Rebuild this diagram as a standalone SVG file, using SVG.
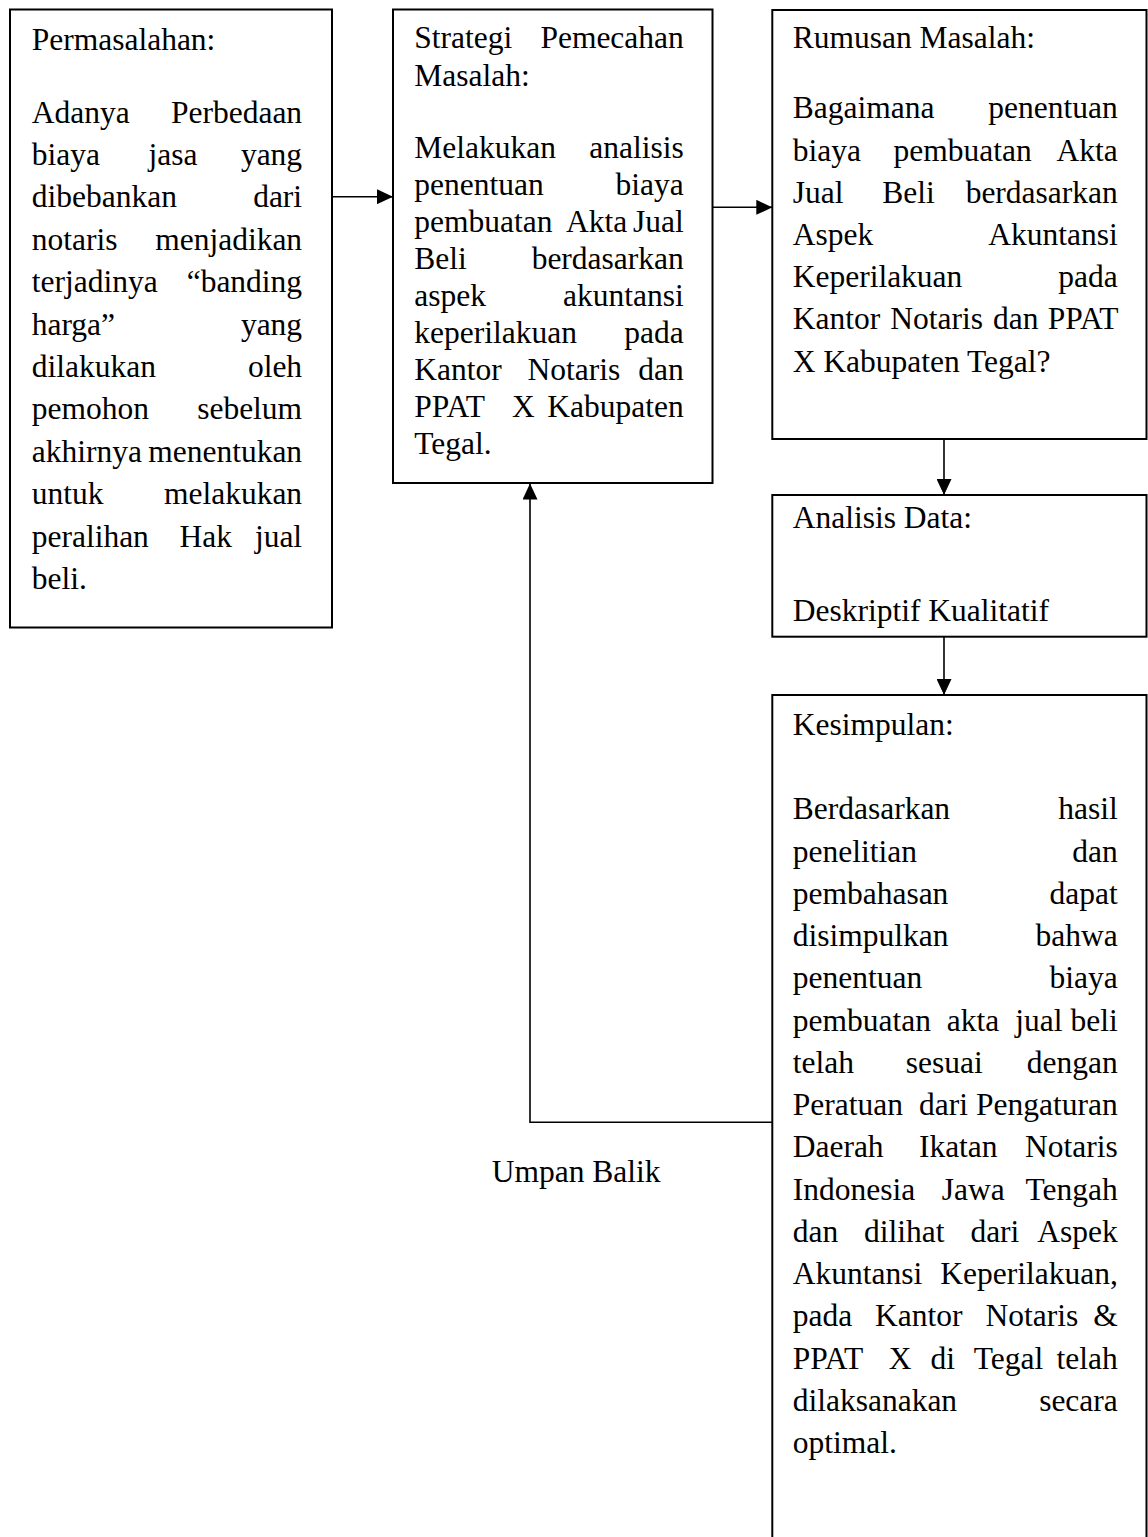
<svg xmlns="http://www.w3.org/2000/svg" width="1148" height="1537" viewBox="0 0 1148 1537">
<style>
.box{fill:#fff;stroke:#000;stroke-width:2}
.t{font-family:"Liberation Serif","Times New Roman",serif;font-size:31.5px;fill:#000}
.e{text-anchor:end}
.c{fill:none;stroke:#000;stroke-width:1.6}
</style>
<defs>
<marker id="ah" viewBox="0 0 16 15" refX="16" refY="7.5" markerWidth="16" markerHeight="15" markerUnits="userSpaceOnUse" orient="auto">
<path d="M0,0 L16,7.5 L0,15 Z" fill="#000"/>
</marker>
</defs>
<rect width="1148" height="1537" fill="#fff"/>

<g id="permasalahan">
<rect class="box" x="10" y="9.5" width="322" height="618"/>
<text class="t">
<tspan x="31.7" y="50">Permasalahan:</tspan>
<tspan x="31.7" y="122.5">Adanya</tspan><tspan class="e" x="310" y="122.5">Perbedaan</tspan>
<tspan x="31.7" y="164.9">biaya</tspan><tspan x="148.5" y="164.9">jasa</tspan><tspan class="e" x="310" y="164.9">yang</tspan>
<tspan x="31.7" y="207.3">dibebankan</tspan><tspan class="e" x="310" y="207.3">dari</tspan>
<tspan x="31.7" y="249.7">notaris</tspan><tspan class="e" x="310" y="249.7">menjadikan</tspan>
<tspan x="31.7" y="292.1">terjadinya</tspan><tspan class="e" x="310" y="292.1">“banding</tspan>
<tspan x="31.7" y="334.5">harga”</tspan><tspan class="e" x="310" y="334.5">yang</tspan>
<tspan x="31.7" y="376.9">dilakukan</tspan><tspan class="e" x="310" y="376.9">oleh</tspan>
<tspan x="31.7" y="419.3">pemohon</tspan><tspan class="e" x="310" y="419.3">sebelum</tspan>
<tspan x="31.7" y="461.7">akhirnya</tspan><tspan class="e" x="310" y="461.7">menentukan</tspan>
<tspan x="31.7" y="504.1">untuk</tspan><tspan class="e" x="310" y="504.1">melakukan</tspan>
<tspan x="31.7" y="546.5">peralihan</tspan><tspan x="179.6" y="546.5">Hak</tspan><tspan class="e" x="310" y="546.5">jual</tspan>
<tspan x="31.7" y="588.9">beli.</tspan>
</text>
</g>

<g id="strategi">
<rect class="box" x="393" y="9.5" width="319.5" height="473.5"/>
<text class="t">
<tspan x="414.3" y="48.3">Strategi</tspan><tspan class="e" x="691.7" y="48.3">Pemecahan</tspan>
<tspan x="414.3" y="86">Masalah:</tspan>
<tspan x="414.3" y="158.3">Melakukan</tspan><tspan class="e" x="691.7" y="158.3">analisis</tspan>
<tspan x="414.3" y="195.2">penentuan</tspan><tspan class="e" x="691.7" y="195.2">biaya</tspan>
<tspan x="414.3" y="232.1">pembuatan</tspan><tspan x="566.1" y="232.1">Akta</tspan><tspan class="e" x="691.7" y="232.1">Jual</tspan>
<tspan x="414.3" y="269">Beli</tspan><tspan class="e" x="691.7" y="269">berdasarkan</tspan>
<tspan x="414.3" y="305.9">aspek</tspan><tspan class="e" x="691.7" y="305.9">akuntansi</tspan>
<tspan x="414.3" y="342.8">keperilakuan</tspan><tspan class="e" x="691.7" y="342.8">pada</tspan>
<tspan x="414.3" y="379.7">Kantor</tspan><tspan x="527.6" y="379.7">Notaris</tspan><tspan class="e" x="691.7" y="379.7">dan</tspan>
<tspan x="414.3" y="416.6">PPAT</tspan><tspan x="511.9" y="416.6">X</tspan><tspan class="e" x="691.7" y="416.6">Kabupaten</tspan>
<tspan x="414.3" y="453.5">Tegal.</tspan>
</text>
</g>

<g id="rumusan">
<rect class="box" x="772.3" y="10" width="374.2" height="429"/>
<text class="t">
<tspan x="792.7" y="48.3">Rumusan Masalah:</tspan>
<tspan x="792.7" y="118.3">Bagaimana</tspan><tspan class="e" x="1125.7" y="118.3">penentuan</tspan>
<tspan x="792.7" y="160.5">biaya</tspan><tspan x="893.6" y="160.5">pembuatan</tspan><tspan class="e" x="1125.7" y="160.5">Akta</tspan>
<tspan x="792.7" y="202.7">Jual</tspan><tspan x="882.2" y="202.7">Beli</tspan><tspan class="e" x="1125.7" y="202.7">berdasarkan</tspan>
<tspan x="792.7" y="244.9">Aspek</tspan><tspan class="e" x="1125.7" y="244.9">Akuntansi</tspan>
<tspan x="792.7" y="287.1">Keperilakuan</tspan><tspan class="e" x="1125.7" y="287.1">pada</tspan>
<tspan x="792.7" y="329.3">Kantor</tspan><tspan x="890.3" y="329.3">Notaris</tspan><tspan x="993.1" y="329.3">dan</tspan><tspan class="e" x="1125.7" y="329.3">PPAT</tspan>
<tspan x="792.7" y="371.5">X Kabupaten Tegal?</tspan>
</text>
</g>

<g id="analisis">
<rect class="box" x="772.3" y="495" width="374.2" height="141.7"/>
<text class="t">
<tspan x="792.7" y="528">Analisis Data:</tspan>
<tspan x="792.7" y="621">Deskriptif Kualitatif</tspan>
</text>
</g>

<g id="kesimpulan">
<rect class="box" x="772.3" y="695" width="374.2" height="860"/>
<text class="t">
<tspan x="792.7" y="735">Kesimpulan:</tspan>
<tspan x="792.7" y="819.3">Berdasarkan</tspan><tspan class="e" x="1125.7" y="819.3">hasil</tspan>
<tspan x="792.7" y="861.6">penelitian</tspan><tspan class="e" x="1125.7" y="861.6">dan</tspan>
<tspan x="792.7" y="903.8">pembahasan</tspan><tspan class="e" x="1125.7" y="903.8">dapat</tspan>
<tspan x="792.7" y="946.1">disimpulkan</tspan><tspan class="e" x="1125.7" y="946.1">bahwa</tspan>
<tspan x="792.7" y="988.3">penentuan</tspan><tspan class="e" x="1125.7" y="988.3">biaya</tspan>
<tspan x="792.7" y="1030.6">pembuatan</tspan><tspan x="946.8" y="1030.6">akta</tspan><tspan x="1015.2" y="1030.6">jual</tspan><tspan class="e" x="1125.7" y="1030.6">beli</tspan>
<tspan x="792.7" y="1072.8">telah</tspan><tspan x="905.8" y="1072.8">sesuai</tspan><tspan class="e" x="1125.7" y="1072.8">dengan</tspan>
<tspan x="792.7" y="1115.1">Peratuan</tspan><tspan x="919" y="1115.1">dari</tspan><tspan class="e" x="1125.7" y="1115.1">Pengaturan</tspan>
<tspan x="792.7" y="1157.3">Daerah</tspan><tspan x="918.9" y="1157.3">Ikatan</tspan><tspan class="e" x="1125.7" y="1157.3">Notaris</tspan>
<tspan x="792.7" y="1199.6">Indonesia</tspan><tspan x="941.7" y="1199.6">Jawa</tspan><tspan class="e" x="1125.7" y="1199.6">Tengah</tspan>
<tspan x="792.7" y="1241.8">dan</tspan><tspan x="864" y="1241.8">dilihat</tspan><tspan x="970.4" y="1241.8">dari</tspan><tspan class="e" x="1125.7" y="1241.8">Aspek</tspan>
<tspan x="792.7" y="1284.1">Akuntansi</tspan><tspan class="e" x="1125.7" y="1284.1">Keperilakuan,</tspan>
<tspan x="792.7" y="1326.3">pada</tspan><tspan x="875.1" y="1326.3">Kantor</tspan><tspan x="985.5" y="1326.3">Notaris</tspan><tspan class="e" x="1125.7" y="1326.3">&amp;</tspan>
<tspan x="792.7" y="1368.6">PPAT</tspan><tspan x="888.7" y="1368.6">X</tspan><tspan x="930.4" y="1368.6">di</tspan><tspan x="973.8" y="1368.6">Tegal</tspan><tspan class="e" x="1125.7" y="1368.6">telah</tspan>
<tspan x="792.7" y="1410.8">dilaksanakan</tspan><tspan class="e" x="1125.7" y="1410.8">secara</tspan>
<tspan x="792.7" y="1453.1">optimal.</tspan>
</text>
</g>

<g id="umpan-balik">
<text class="t" x="491.7" y="1181.7">Umpan Balik</text>
</g>

<g id="connectors">
<line class="c" x1="332" y1="196.7" x2="393" y2="196.7" marker-end="url(#ah)"/>
<line class="c" x1="712.5" y1="207.3" x2="772.3" y2="207.3" marker-end="url(#ah)"/>
<line class="c" x1="944" y1="439" x2="944" y2="495" marker-end="url(#ah)"/>
<line class="c" x1="944" y1="636.7" x2="944" y2="695" marker-end="url(#ah)"/>
<polyline class="c" points="772.3,1122.3 530,1122.3 530,483.5" marker-end="url(#ah)"/>
</g>
</svg>
